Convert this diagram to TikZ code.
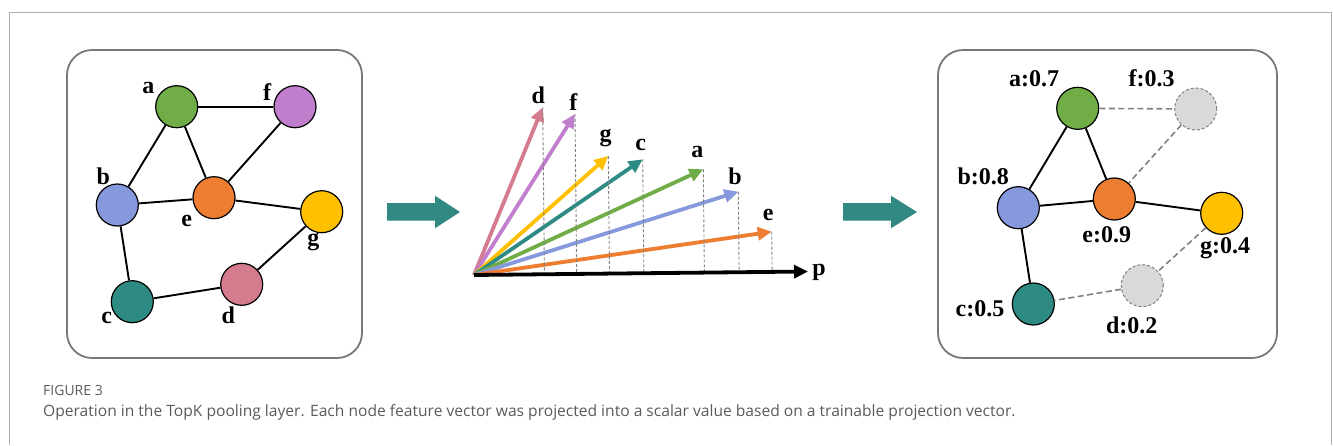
\documentclass[tikz,border=0pt]{standalone}
\usepackage{fontspec}
\setmainfont{Liberation Serif}
\newfontfamily\capfont{Open Sans}
\usetikzlibrary{arrows.meta,calc}
\definecolor{cA}{RGB}{112,173,71}
\definecolor{cB}{RGB}{133,153,220}
\definecolor{cC}{RGB}{46,139,132}
\definecolor{cD}{RGB}{212,123,142}
\definecolor{cE}{RGB}{237,125,49}
\definecolor{cF}{RGB}{193,126,204}
\definecolor{cG}{RGB}{255,192,0}
\definecolor{lightg}{RGB}{217,217,217}
\definecolor{dgray}{RGB}{128,128,128}
\definecolor{panelgray}{RGB}{120,120,120}
\definecolor{framegray}{RGB}{175,175,175}
\definecolor{capgray}{RGB}{90,90,90}
\definecolor{teal2}{RGB}{49,137,129}
\begin{document}
\begin{tikzpicture}[x=1pt,y=-1pt,
  gn/.style={circle,draw=black,line width=1.2pt,minimum size=42pt,inner sep=0pt},
  dn/.style={circle,draw=dgray,fill=lightg,line width=1pt,dash pattern=on 3pt off 2pt,minimum size=42pt,inner sep=0pt},
  lbl/.style={font=\fontsize{24}{24}\selectfont\bfseries,inner sep=0pt},
  edge/.style={line width=1.9pt,draw=black},
  dedge/.style={line width=1.6pt,draw=dgray,dash pattern=on 6pt off 3.5pt},
  vec/.style={line width=3.8pt,-{Triangle[length=14pt,width=13pt]}},
  proj/.style={line width=0.9pt,draw=dgray,dash pattern=on 3pt off 2pt},
  panel/.style={draw=panelgray,line width=1.8pt,rounded corners=25pt},
  bigarrow/.style={fill=teal2,draw=none}
]
\useasboundingbox (0,0) rectangle (1333,445);
\draw[framegray,line width=1.2pt] (9.5,445) -- (9.5,12.5) -- (1331.5,12.5) -- (1331.5,445);

% ---------- left panel ----------
\draw[panel] (67,50) rectangle (362,358);
\node[gn,fill=cA] (a) at (176.7,106.7) {};
\node[gn,fill=cF] (f) at (295,106.7) {};
\node[gn,fill=cB] (b) at (117.3,205) {};
\node[gn,fill=cE] (e) at (214,197.7) {};
\node[gn,fill=cG] (g) at (321.7,211.7) {};
\node[gn,fill=cD] (d) at (241.7,284.3) {};
\node[gn,fill=cC] (c) at (132.3,301.7) {};
\draw[edge] (a) -- (f);
\draw[edge] (a) -- (b);
\draw[edge] (a) -- (e);
\draw[edge] (f) -- (e);
\draw[edge] (b) -- (e);
\draw[edge] (e) -- (g);
\draw[edge] (b) -- (c);
\draw[edge] (c) -- (d);
\draw[edge] (d) -- (g);
\node[lbl] (la) at (148.3,88.3) {a};
\node[lbl] (lf) at (267,91.7) {f};
\node[lbl] (lb) at (103.3,176.7) {b};
\node[lbl] (le) at (186.7,221) {e};
\node[lbl] (lg) at (313.3,241.7) {g};
\node[lbl] (lc) at (106.7,318.3) {c};
\node[lbl] (ld) at (228.3,315.7) {d};

% ---------- arrows ----------
\fill[bigarrow] (387,203) -- (435,203) -- (435,195.7) -- (460,212) -- (435,228.3) -- (435,220.7) -- (387,220.7) -- cycle;
\fill[bigarrow] (843,203) -- (891,203) -- (891,195.7) -- (917,212) -- (891,228.3) -- (891,220.7) -- (843,220.7) -- cycle;

% ---------- projection ----------
\coordinate (O) at (474,275);
\coordinate (P) at (808,271.5);
\coordinate (td) at (542.7,107.3);
\coordinate (tf) at (575,114);
\coordinate (tg) at (608.3,156);
\coordinate (tc) at (642.7,159.3);
\coordinate (ta) at (703.3,169.3);
\coordinate (tb) at (738.3,191.7);
\coordinate (te) at (771.7,231.7);
\draw[vec,cD] (O) -- (td);
\draw[vec,cF] (O) -- (tf);
\draw[vec,cG] (O) -- (tg);
\draw[vec,cC] (O) -- (tc);
\draw[vec,cA] (O) -- (ta);
\draw[vec,cB] (O) -- (tb);
\draw[vec,cE] (O) -- (te);
\foreach \t in {td,tf,tg,tc,ta,tb,te}{
  \draw[proj] (\t) -- ($(O)!(\t)!(P)$);
}
\draw[vec,black] (O) -- (P);
\node[lbl] (vd) at (538.3,95) {d};
\node[lbl] (vf) at (573.3,101.7) {f};
\node[lbl] (vg) at (605.7,138.3) {g};
\node[lbl] (vc) at (640.7,145) {c};
\node[lbl] (va) at (697.3,151.7) {a};
\node[lbl] (vb) at (735,176.7) {b};
\node[lbl] (ve) at (768.3,215) {e};
\node[lbl] (vp) at (819,272) {p};

% ---------- right panel ----------
\draw[panel] (938,50) rectangle (1277,358);
\node[gn,fill=cA] (ra) at (1077.7,108.3) {};
\node[dn] (rf) at (1195.7,109) {};
\node[gn,fill=cB] (rb) at (1018.3,207.7) {};
\node[gn,fill=cE] (re) at (1114.3,199) {};
\node[gn,fill=cG] (rg) at (1221.7,213.3) {};
\node[dn] (rd) at (1142.3,285.7) {};
\node[gn,fill=cC] (rc) at (1033.3,304) {};
\draw[edge] (ra) -- (rb);
\draw[edge] (ra) -- (re);
\draw[edge] (rb) -- (re);
\draw[edge] (re) -- (rg);
\draw[edge] (rb) -- (rc);
\draw[dedge] (ra) -- (rf);
\draw[dedge] (rf) -- (re);
\draw[dedge] (rg) -- (rd);
\draw[dedge] (rd) -- (rc);
\node[lbl] (lra) at (1034,78.3) {a:0.7};
\node[lbl] (lrf) at (1151.7,78.3) {f:0.3};
\node[lbl] (lrb) at (983.3,176.7) {b:0.8};
\node[lbl] (lre) at (1106.7,235) {e:0.9};
\node[lbl] (lrg) at (1225,248.3) {g:0.4};
\node[lbl] (lrc) at (980,308.3) {c:0.5};
\node[lbl] (lrd) at (1131.7,325) {d:0.2};

% ---------- caption ----------
\node[anchor=west,inner sep=0pt,text=capgray,font=\capfont\fontsize{14}{14}\selectfont] (fig) at (43,390) {FIGURE 3};
\node[anchor=west,inner sep=0pt,text=capgray,font=\capfont\fontsize{15.6}{15.6}\selectfont] (cap) at (43,412) {Operation in the TopK pooling layer. Each node feature vector was projected into a scalar value based on a trainable projection vector.};
\end{tikzpicture}
\end{document}
